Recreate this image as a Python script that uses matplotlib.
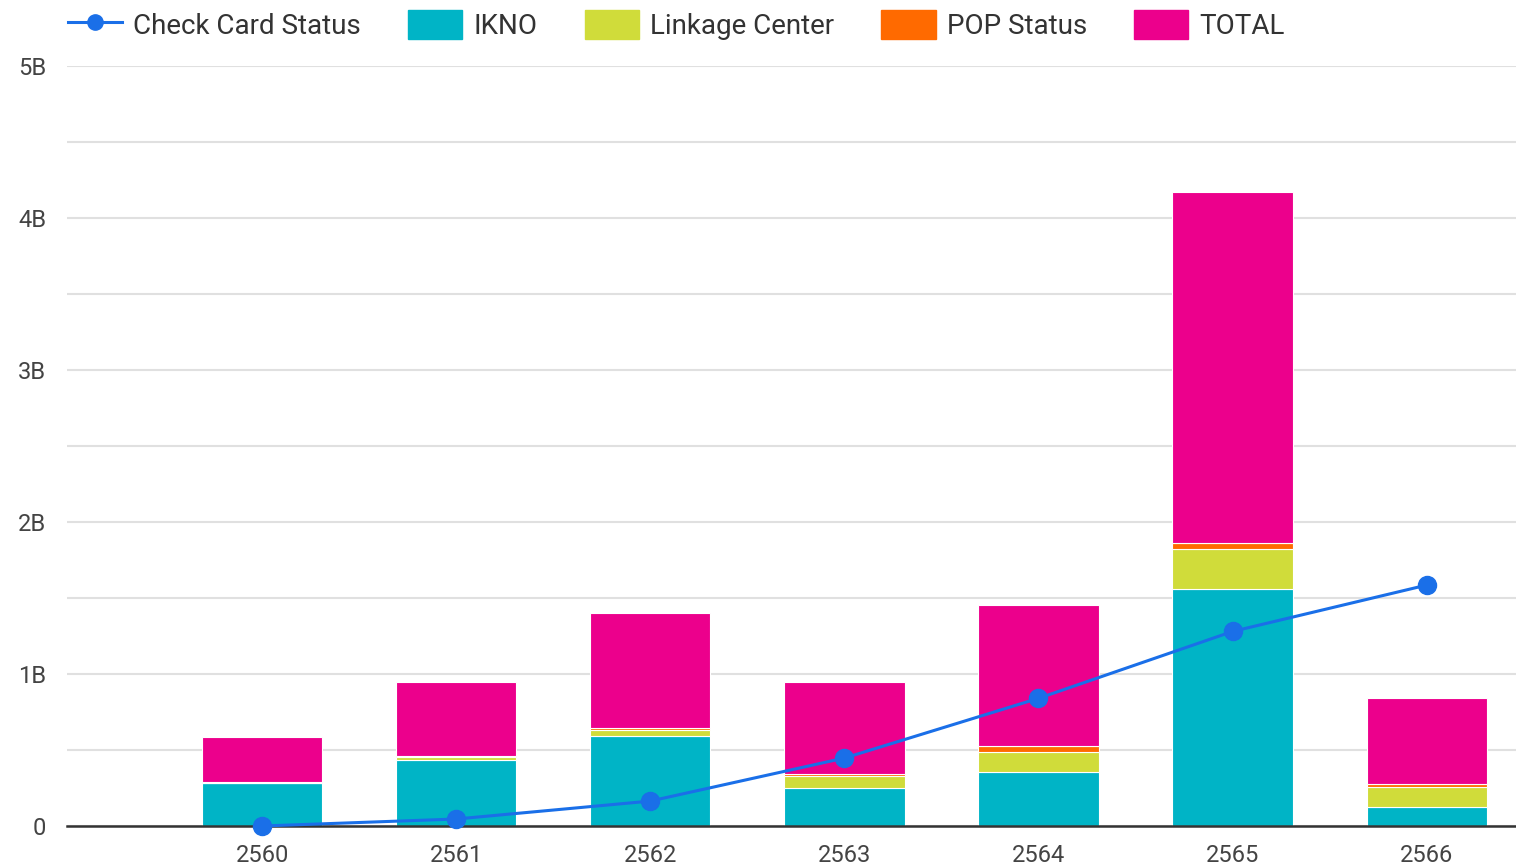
import numpy as np
import matplotlib
matplotlib.use("Agg")
import matplotlib.pyplot as plt
from matplotlib.lines import Line2D
from matplotlib.patches import Patch

plt.rcParams['font.family'] = ['Roboto', 'DejaVu Sans']

# values in billions
years = ['2560', '2561', '2562', '2563', '2564', '2565', '2566']
ikno = [0.283, 0.434, 0.592, 0.250, 0.355, 1.560, 0.125]
linkage = [0.003, 0.020, 0.040, 0.080, 0.130, 0.260, 0.130]
pop_status = [0.003, 0.005, 0.010, 0.015, 0.040, 0.040, 0.020]
total = [0.296, 0.488, 0.758, 0.602, 0.929, 2.310, 0.565]
check_card = [0.0, 0.046, 0.164, 0.447, 0.840, 1.280, 1.585]

y_ticks = [0, 1, 2, 3, 4, 5]
y_labels = ['0', '1B', '2B', '3B', '4B', '5B']

c_ikno = '#00b4c6'
c_link = '#d0dc3a'
c_pop = '#ff6a00'
c_total = '#ec008c'
c_line = '#1a6fe8'

fig = plt.figure(figsize=(15.16, 8.65), dpi=100)
ax = fig.add_axes([67 / 1516, 39 / 865, 1 - 67 / 1516, (826 - 66) / 865])

x = np.arange(len(years))
w = 0.62
bottom = np.zeros(len(years))
for vals, col in [(ikno, c_ikno), (linkage, c_link), (pop_status, c_pop), (total, c_total)]:
    ax.bar(x, vals, w, bottom=bottom, color=col, edgecolor='white', linewidth=0.8, zorder=2)
    bottom += np.array(vals)

ax.plot(x, check_card, color=c_line, lw=2.2, marker='o', markersize=13, zorder=4, clip_on=False)

ax.set_xlim(-1.005, 6.46)
ax.set_ylim(0, 5)
ax.set_yticks(y_ticks)
ax.set_yticklabels(y_labels)
ax.set_yticks(np.arange(0.5, 5, 1), minor=True)
ax.set_xticks(x)
ax.set_xticklabels(years)
ax.grid(axis='y', which='both', color='#e0e0e0', lw=1.5, zorder=0)
ax.set_axisbelow(True)
ax.tick_params(axis='both', which='both', length=0, labelsize=17, colors='#444444')
ax.tick_params(axis='y', pad=15)
ax.tick_params(axis='x', pad=13)
for s in ['top', 'right', 'left']:
    ax.spines[s].set_visible(False)
ax.spines['bottom'].set_color('#333333')
ax.spines['bottom'].set_linewidth(1.8)
ax.spines['bottom'].set_zorder(3)

handles = [
    Line2D([0], [0], color=c_line, lw=2.2, marker='o', markersize=11),
    Patch(color=c_ikno), Patch(color=c_link), Patch(color=c_pop), Patch(color=c_total),
]
labels = ['Check Card Status', 'IKNO', 'Linkage Center', 'POP Status', 'TOTAL']
fig.legend(handles, labels, loc='center left', bbox_to_anchor=(43 / 1516, 1 - 25 / 865),
           ncol=5, frameon=False, fontsize=20, handlelength=1.95, handleheight=1.2,
           columnspacing=1.7, handletextpad=0.4, labelcolor='#333333')

fig.savefig('out.png', dpi=100)
